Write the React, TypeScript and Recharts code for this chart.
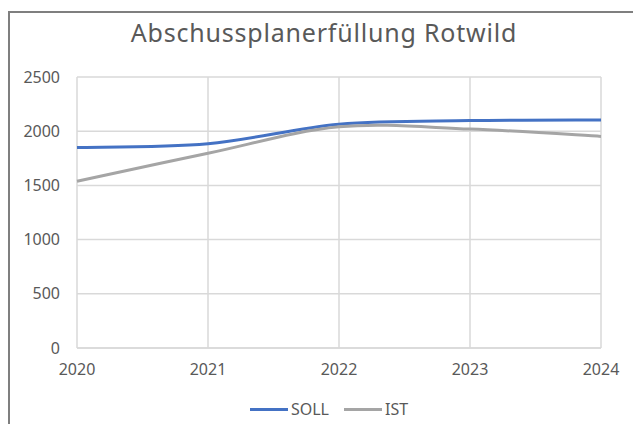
import { LineChart, Line, XAxis, YAxis, CartesianGrid, Legend } from 'recharts'

const years = [2020, 2021, 2022, 2023, 2024]
const soll = [1850, 1885, 2065, 2098, 2104]
const ist = [1538, 1796, 2040, 2020, 1952]
const yTicks = [0, 500, 1000, 1500, 2000, 2500]

const data = years.map((y, i) => ({ year: y, SOLL: soll[i], IST: ist[i] }))

const FONT = '"Noto Sans", "Open Sans", sans-serif'
const TEXT = '#595959'

// Excel-like smoothed line (Catmull-Rom through the points)
function excelSmooth(context: any) {
  let pts: number[][] = []
  return {
    areaStart() {},
    areaEnd() {},
    lineStart() { pts = [] },
    point(x: number, y: number) { pts.push([+x, +y]) },
    lineEnd() {
      if (!pts.length) return
      context.moveTo(pts[0][0], pts[0][1])
      for (let i = 0; i < pts.length - 1; i++) {
        const p0 = pts[i - 1] || pts[i]
        const p1 = pts[i]
        const p2 = pts[i + 1]
        const p3 = pts[i + 2] || p2
        context.bezierCurveTo(
          p1[0] + (p2[0] - p0[0]) / 6, p1[1] + (p2[1] - p0[1]) / 6,
          p2[0] - (p3[0] - p1[0]) / 6, p2[1] - (p3[1] - p1[1]) / 6,
          p2[0], p2[1],
        )
      }
    },
  }
}

function LegendBox() {
  const items = [
    { name: 'SOLL', color: '#4472C4' },
    { name: 'IST', color: '#A5A5A5' },
  ]
  return (
    <div style={{ display: 'flex', justifyContent: 'center', gap: 15, fontFamily: FONT, fontSize: 16, color: TEXT, lineHeight: '20px' }}>
      {items.map(it => (
        <div key={it.name} style={{ display: 'flex', alignItems: 'center' }}>
          <span style={{ display: 'inline-block', width: 38, height: 3, background: it.color, marginRight: 3 }} />
          <span>{it.name}</span>
        </div>
      ))}
    </div>
  )
}

export default function App() {
  return (
    <div style={{ position: 'fixed', left: 0, top: 0, width: 633, height: 424, background: '#fff', overflow: 'hidden' }}>
      {/* chart border, runs off the right and bottom edge */}
      <div style={{ position: 'absolute', left: 8, top: 11, width: 700, height: 500, borderTop: '2px solid #7f7f7f', borderLeft: '2px solid #7f7f7f' }} />
      <div style={{ position: 'absolute', left: 0, top: 15, width: 648, textAlign: 'center', fontFamily: FONT, fontSize: 25, letterSpacing: 0.8, color: TEXT }}>
        Abschussplanerfüllung Rotwild
      </div>
      <div style={{ position: 'absolute', left: 0, top: 0 }}>
        <LineChart width={633} height={424} data={data} margin={{ top: 77, right: 32, left: 0, bottom: 46 }}>
          <CartesianGrid stroke="#d9d9d9" strokeWidth={1.5} />
          <XAxis
            dataKey="year"
            type="number"
            domain={[2020, 2024]}
            ticks={years}
            height={30}
            tickSize={0}
            tickMargin={16}
            axisLine={{ stroke: '#d9d9d9', strokeWidth: 1.5 }}
            tick={{ fill: TEXT, fontSize: 16, fontFamily: FONT }}
          />
          <YAxis
            domain={[0, 2500]}
            ticks={yTicks}
            width={77}
            tickSize={0}
            tickMargin={17}
            axisLine={false}
            tick={{ fill: TEXT, fontSize: 16, fontFamily: FONT }}
          />
          <Legend
            layout="horizontal"
            verticalAlign="middle"
            align="center"
            wrapperStyle={{ top: 399, left: 0, width: 658 }}
            content={() => <LegendBox />}
          />
          <Line type={excelSmooth as any} dataKey="SOLL" stroke="#4472C4" strokeWidth={3} dot={false} isAnimationActive={false} />
          <Line type={excelSmooth as any} dataKey="IST" stroke="#A5A5A5" strokeWidth={3} dot={false} isAnimationActive={false} />
        </LineChart>
      </div>
    </div>
  )
}
